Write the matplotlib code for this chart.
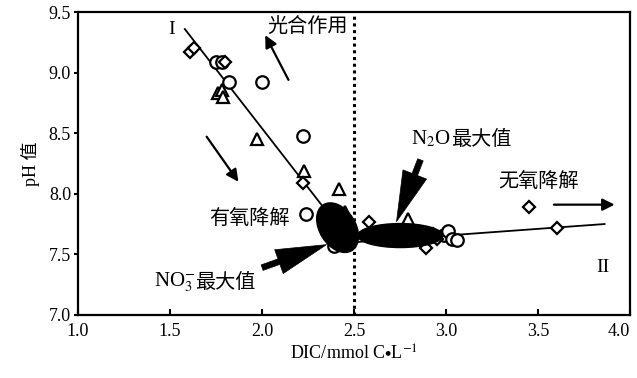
import numpy as np
import matplotlib
matplotlib.use("Agg")
import matplotlib.pyplot as plt
from matplotlib.patches import Ellipse
from matplotlib.transforms import ScaledTranslation

plt.rcParams['font.family'] = ['Liberation Serif', 'Noto Sans CJK SC', 'DejaVu Sans']
plt.rcParams['mathtext.fontset'] = 'stix'

CJK = ['Noto Sans CJK SC', 'DejaVu Sans']

# 数据点
circ_x = [1.75, 1.78, 1.82, 2.00, 2.22, 2.24, 2.39, 2.99, 3.01, 3.03, 3.06]
circ_y = [9.09, 9.09, 8.92, 8.92, 8.48, 7.83, 7.57, 7.66, 7.69, 7.63, 7.62]
tri_x = [1.76, 1.78, 1.79, 1.97, 2.23, 2.42, 2.45, 2.79]
tri_y = [8.83, 8.86, 8.80, 8.45, 8.19, 8.04, 7.85, 7.79]
dia_x = [1.61, 1.63, 1.80, 2.22, 2.58, 2.89, 2.93, 2.95, 3.45, 3.60]
dia_y = [9.17, 9.20, 9.09, 8.09, 7.77, 7.55, 7.67, 7.63, 7.89, 7.72]

# 回归线 I, II
line1_x = [1.58, 2.47]
line1_y = [9.36, 7.62]
line2_x = [2.50, 3.86]
line2_y = [7.60, 7.75]

x_ticks = [1.0, 1.5, 2.0, 2.5, 3.0, 3.5, 4.0]
y_ticks = [7.0, 7.5, 8.0, 8.5, 9.0, 9.5]

fig = plt.figure(figsize=(6.37, 3.78), dpi=100)
ax = fig.add_axes([0.1225, 0.167, 0.867, 0.801])

ax.plot(line1_x, line1_y, color='black', lw=1.3, zorder=2)
ax.plot(line2_x, line2_y, color='black', lw=1.3, zorder=2)

mk = dict(linestyle='none', mfc='white', mec='black', mew=1.6, zorder=3)
ax.plot(circ_x, circ_y, marker='o', ms=9, **mk)
ax.plot(tri_x, tri_y, marker='^', ms=8.5, **mk)
ax.plot(dia_x, dia_y, marker='D', ms=6.5, **mk)

# 黑色椭圆区域
for (cx, cy), w, h, ang in [((2.41, 7.72), 0.54, 0.36, -58), ((2.75, 7.655), 0.85, 0.24, 0)]:
    tr = fig.dpi_scale_trans + ScaledTranslation(cx, cy, ax.transData)
    ax.add_patch(Ellipse((0, 0), w, h, angle=ang, transform=tr,
                         facecolor='black', edgecolor='black', zorder=4))

ax.axvline(2.5, color='black', lw=2.2, linestyle=(0, (1, 1.2)), zorder=1)

ax.set_xlim(1.0, 4.0)
ax.set_ylim(7.0, 9.5)
ax.set_xticks(x_ticks)
ax.set_yticks(y_ticks)
ax.set_xticklabels(['%.1f' % v for v in x_ticks], fontsize=13)
ax.set_yticklabels(['%.1f' % v for v in y_ticks], fontsize=13)
ax.get_xticklabels()[-1].set_horizontalalignment('right')
ax.tick_params(axis='x', direction='in', length=4, width=1.5, pad=6)
ax.tick_params(axis='y', direction='out', length=3, width=1.5, pad=2)
for s in ax.spines.values():
    s.set_linewidth(1.6)

ax.set_xlabel('DIC/mmol C$\\bullet$L$^{-1}$', fontsize=13, labelpad=3)
ax.set_ylabel('pH 值', fontsize=13, family=['Liberation Serif', 'Noto Sans CJK SC'], labelpad=6)

# 标注文字
ax.text(1.51, 9.36, 'I', fontsize=14, ha='center', va='center')
ax.text(3.85, 7.39, 'II', fontsize=14, ha='center', va='center')
ax.text(2.03, 9.37, '光合作用', fontsize=14.5, family=CJK, ha='left', va='center')
ax.text(1.93, 7.80, '有氧降解', fontsize=14.5, family=CJK, ha='center', va='center')
ax.text(3.50, 8.10, '无氧降解', fontsize=14.5, family=CJK, ha='center', va='center')

t1 = ax.text(1.41, 7.27, 'NO$_3^{-}$', fontsize=15, ha='left', va='center')
ax.annotate('最大值', xy=(1, 0.5), xycoords=t1, fontsize=14.5, family=CJK,
            ha='left', va='center')
t2 = ax.text(2.81, 8.45, 'N$_2$O', fontsize=15, ha='left', va='center')
ax.annotate('最大值', xy=(1, 0.5), xycoords=t2, fontsize=14.5, family=CJK,
            ha='left', va='center')

thin = dict(arrowstyle='-|>', color='black', lw=1.6, mutation_scale=18)
ax.annotate('', xy=(2.01, 9.33), xytext=(2.15, 8.92), arrowprops=thin)
ax.annotate('', xy=(1.88, 8.08), xytext=(1.69, 8.49), arrowprops=thin)
ax.annotate('', xy=(3.93, 7.91), xytext=(3.57, 7.91), arrowprops=thin)

fat = dict(arrowstyle='simple,head_length=2.6,head_width=1.3,tail_width=0.3',
           color='black', lw=0.5, mutation_scale=14, shrinkA=0, shrinkB=0)
ax.annotate('', xy=(2.35, 7.58), xytext=(2.00, 7.39), arrowprops=fat, zorder=5)
ax.annotate('', xy=(2.73, 7.77), xytext=(2.86, 8.28), arrowprops=fat, zorder=5)

fig.savefig('out.png', dpi=100)
